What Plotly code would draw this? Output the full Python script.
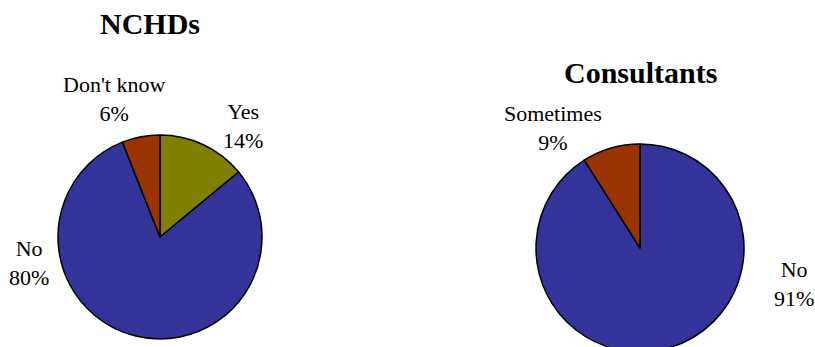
import plotly.graph_objects as go

# Survey responses by group (percent)
nchd_labels = ["Yes", "No", "Don't know"]
nchd_values = [14, 80, 6]
nchd_colors = ["#808000", "#333399", "#993300"]

cons_labels = ["No", "Sometimes"]
cons_values = [91, 9]
cons_colors = ["#333399", "#993300"]

titles = ["NCHDs", "Consultants"]

W, H = 815, 360
FONT = "Liberation Serif, Times New Roman, serif"


def px_x(x):
    return x / W


def px_y(y):
    return 1 - y / H


fig = go.Figure()

fig.add_trace(go.Pie(
    labels=nchd_labels, values=nchd_values, sort=False, direction="clockwise",
    rotation=0, textinfo="none", hoverinfo="label+percent",
    marker=dict(colors=nchd_colors, line=dict(color="black", width=1.5)),
    domain=dict(x=[px_x(58), px_x(262)], y=[px_y(339), px_y(135)]),
    showlegend=False,
))

fig.add_trace(go.Pie(
    labels=cons_labels, values=cons_values, sort=False, direction="clockwise",
    rotation=0, textinfo="none", hoverinfo="label+percent",
    marker=dict(colors=cons_colors, line=dict(color="black", width=1.5)),
    domain=dict(x=[px_x(536), px_x(744)], y=[px_y(352), px_y(144)]),
    showlegend=False,
))

# Slice label anchor points (pixel centres)
nchd_label_pos = {"Yes": (243, 126), "No": (29, 263), "Don't know": (114, 99)}
cons_label_pos = {"No": (794, 284), "Sometimes": (553, 128)}

annotations = []
for labels, values, pos in [(nchd_labels, nchd_values, nchd_label_pos),
                            (cons_labels, cons_values, cons_label_pos)]:
    for lab, val in zip(labels, values):
        x, y = pos[lab]
        annotations.append(dict(
            text=f"{lab}<br>{val}%", x=px_x(x), y=px_y(y), xref="paper", yref="paper",
            showarrow=False, xanchor="center", yanchor="middle",
            font=dict(family=FONT, size=22, color="black"),
        ))

for t, (x, y) in zip(titles, [(150, 24), (640, 73)]):
    annotations.append(dict(
        text=f"<b>{t}</b>", x=px_x(x), y=px_y(y), xref="paper", yref="paper",
        showarrow=False, xanchor="center", yanchor="middle",
        font=dict(family=FONT, size=30, color="black"),
    ))

fig.update_layout(
    width=W, height=H,
    margin=dict(l=0, r=0, t=0, b=0),
    paper_bgcolor="white", plot_bgcolor="white",
    annotations=annotations,
)

fig.write_html(
    "out.html",
    config={"displayModeBar": False},
    post_script="document.body.style.margin='0';document.body.style.overflow='hidden';",
)
